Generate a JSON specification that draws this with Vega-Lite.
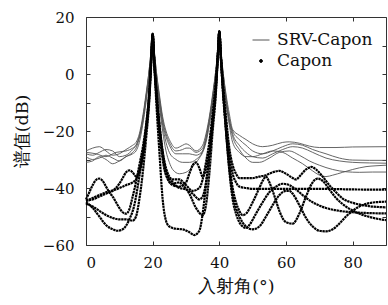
{
"$schema": "https://vega.github.io/schema/vega-lite/v6.json",
"width": 300, "height": 228,
"autosize": "none",
"padding": {"left": 86, "top": 17, "right": 2, "bottom": 60},
"background": "white",
"config": {"view": {"stroke": null}, "font": "DejaVu Serif",
  "axis": {"domainColor": "#333", "tickColor": "#333", "labelColor": "#111", "titleColor": "#111", "labelFont": "DejaVu Serif", "labelFontSize": 15, "titleFont": "DejaVu Serif", "titleFontSize": 17.5, "titleFontWeight": "normal", "grid": false, "tickSize": -4}},
"datasets": {
"srv": [
{"s":"S1","x":0,"y":-27},{"s":"S1","x":2,"y":-26},{"s":"S1","x":4,"y":-25.5},{"s":"S1","x":6,"y":-27},{"s":"S1","x":8,"y":-28.5},{"s":"S1","x":10,"y":-28},{"s":"S1","x":12,"y":-26.5},{"s":"S1","x":14,"y":-25},{"s":"S1","x":15,"y":-24},{"s":"S1","x":16,"y":-21},{"s":"S1","x":17,"y":-15},{"s":"S1","x":18,"y":-7},{"s":"S1","x":19,"y":2},{"s":"S1","x":19.5,"y":8},{"s":"S1","x":20,"y":14},{"s":"S1","x":20.5,"y":8},{"s":"S1","x":21,"y":2},{"s":"S1","x":22,"y":-7},{"s":"S1","x":23,"y":-15},{"s":"S1","x":24,"y":-20},{"s":"S1","x":25,"y":-23},{"s":"S1","x":27,"y":-26},{"s":"S1","x":29,"y":-25},{"s":"S1","x":30,"y":-24.5},{"s":"S1","x":31,"y":-25},{"s":"S1","x":33,"y":-27},{"s":"S1","x":35,"y":-25},{"s":"S1","x":36,"y":-21},{"s":"S1","x":37,"y":-15},{"s":"S1","x":38,"y":-7},{"s":"S1","x":39,"y":2},{"s":"S1","x":39.5,"y":8},{"s":"S1","x":40,"y":15},{"s":"S1","x":40.5,"y":8},{"s":"S1","x":41,"y":2},{"s":"S1","x":42,"y":-7},{"s":"S1","x":43,"y":-14},{"s":"S1","x":44,"y":-19.5},{"s":"S1","x":46,"y":-21.5},{"s":"S1","x":48,"y":-23},{"s":"S1","x":50,"y":-24.5},{"s":"S1","x":53,"y":-25.5},{"s":"S1","x":56,"y":-25},{"s":"S1","x":59,"y":-24},{"s":"S1","x":61,"y":-23.8},{"s":"S1","x":64,"y":-24.3},{"s":"S1","x":67,"y":-25.3},{"s":"S1","x":70,"y":-25.8},{"s":"S1","x":75,"y":-25.8},{"s":"S1","x":80,"y":-25.6},{"s":"S1","x":90,"y":-25.5},
{"s":"S2","x":0,"y":-28},{"s":"S2","x":2,"y":-28.5},{"s":"S2","x":4,"y":-27.5},{"s":"S2","x":6,"y":-26.5},{"s":"S2","x":8,"y":-27},{"s":"S2","x":10,"y":-29},{"s":"S2","x":12,"y":-28.5},{"s":"S2","x":14,"y":-26.5},{"s":"S2","x":15,"y":-25},{"s":"S2","x":16,"y":-22},{"s":"S2","x":17,"y":-16},{"s":"S2","x":18,"y":-8},{"s":"S2","x":19,"y":2},{"s":"S2","x":19.5,"y":8},{"s":"S2","x":20,"y":14},{"s":"S2","x":20.5,"y":8},{"s":"S2","x":21,"y":2},{"s":"S2","x":22,"y":-8},{"s":"S2","x":23,"y":-16},{"s":"S2","x":24,"y":-21},{"s":"S2","x":25,"y":-24},{"s":"S2","x":27,"y":-27},{"s":"S2","x":29,"y":-26.5},{"s":"S2","x":30,"y":-26},{"s":"S2","x":31,"y":-26},{"s":"S2","x":33,"y":-27.5},{"s":"S2","x":35,"y":-26},{"s":"S2","x":36,"y":-22},{"s":"S2","x":37,"y":-16},{"s":"S2","x":38,"y":-8},{"s":"S2","x":39,"y":2},{"s":"S2","x":39.5,"y":8},{"s":"S2","x":40,"y":15},{"s":"S2","x":40.5,"y":8},{"s":"S2","x":41,"y":2},{"s":"S2","x":42,"y":-8},{"s":"S2","x":43,"y":-16},{"s":"S2","x":44,"y":-21},{"s":"S2","x":46,"y":-25},{"s":"S2","x":48,"y":-27.5},{"s":"S2","x":50,"y":-29},{"s":"S2","x":53,"y":-29.5},{"s":"S2","x":56,"y":-28},{"s":"S2","x":59,"y":-26.5},{"s":"S2","x":62,"y":-25.5},{"s":"S2","x":65,"y":-26},{"s":"S2","x":68,"y":-27.5},{"s":"S2","x":72,"y":-29.5},{"s":"S2","x":76,"y":-30.5},{"s":"S2","x":80,"y":-31},{"s":"S2","x":85,"y":-31.2},{"s":"S2","x":90,"y":-31.3},
{"s":"S3","x":0,"y":-29},{"s":"S3","x":2,"y":-30},{"s":"S3","x":4,"y":-29.5},{"s":"S3","x":6,"y":-28.5},{"s":"S3","x":8,"y":-29.5},{"s":"S3","x":10,"y":-30.5},{"s":"S3","x":12,"y":-29},{"s":"S3","x":14,"y":-27.5},{"s":"S3","x":15,"y":-26},{"s":"S3","x":16,"y":-22.5},{"s":"S3","x":17,"y":-17},{"s":"S3","x":18,"y":-9},{"s":"S3","x":19,"y":1},{"s":"S3","x":19.5,"y":7},{"s":"S3","x":20,"y":14},{"s":"S3","x":20.5,"y":7},{"s":"S3","x":21,"y":1},{"s":"S3","x":22,"y":-9},{"s":"S3","x":23,"y":-17},{"s":"S3","x":24,"y":-22},{"s":"S3","x":25,"y":-25},{"s":"S3","x":27,"y":-28},{"s":"S3","x":29,"y":-28},{"s":"S3","x":31,"y":-28},{"s":"S3","x":33,"y":-28.5},{"s":"S3","x":35,"y":-27},{"s":"S3","x":36,"y":-23},{"s":"S3","x":37,"y":-17},{"s":"S3","x":38,"y":-9},{"s":"S3","x":39,"y":1},{"s":"S3","x":39.5,"y":7},{"s":"S3","x":40,"y":15},{"s":"S3","x":40.5,"y":7},{"s":"S3","x":41,"y":1},{"s":"S3","x":42,"y":-9},{"s":"S3","x":43,"y":-17},{"s":"S3","x":44,"y":-22},{"s":"S3","x":46,"y":-26.5},{"s":"S3","x":48,"y":-29.5},{"s":"S3","x":50,"y":-31},{"s":"S3","x":52,"y":-31},{"s":"S3","x":55,"y":-29.5},{"s":"S3","x":58,"y":-27.5},{"s":"S3","x":61,"y":-27},{"s":"S3","x":64,"y":-28.5},{"s":"S3","x":67,"y":-30.5},{"s":"S3","x":70,"y":-32},{"s":"S3","x":74,"y":-33.5},{"s":"S3","x":78,"y":-34.3},{"s":"S3","x":82,"y":-34.5},{"s":"S3","x":86,"y":-34.4},{"s":"S3","x":90,"y":-34.4},
{"s":"S4","x":0,"y":-31},{"s":"S4","x":2,"y":-30.5},{"s":"S4","x":4,"y":-29},{"s":"S4","x":6,"y":-30},{"s":"S4","x":8,"y":-31.5},{"s":"S4","x":10,"y":-30.5},{"s":"S4","x":12,"y":-29},{"s":"S4","x":14,"y":-28},{"s":"S4","x":15,"y":-27},{"s":"S4","x":16,"y":-24},{"s":"S4","x":17,"y":-18},{"s":"S4","x":18,"y":-10},{"s":"S4","x":19,"y":0},{"s":"S4","x":19.5,"y":6},{"s":"S4","x":20,"y":14},{"s":"S4","x":20.5,"y":6},{"s":"S4","x":21,"y":0},{"s":"S4","x":22,"y":-11},{"s":"S4","x":23,"y":-20},{"s":"S4","x":24,"y":-27},{"s":"S4","x":25,"y":-31},{"s":"S4","x":26,"y":-33.5},{"s":"S4","x":28,"y":-35},{"s":"S4","x":30,"y":-34.5},{"s":"S4","x":32,"y":-32.5},{"s":"S4","x":34,"y":-29.5},{"s":"S4","x":35,"y":-27.5},{"s":"S4","x":36,"y":-24},{"s":"S4","x":37,"y":-18},{"s":"S4","x":38,"y":-10},{"s":"S4","x":39,"y":0},{"s":"S4","x":39.5,"y":6},{"s":"S4","x":40,"y":15},{"s":"S4","x":40.5,"y":6},{"s":"S4","x":41,"y":0},{"s":"S4","x":42,"y":-10},{"s":"S4","x":43,"y":-18},{"s":"S4","x":44,"y":-24},{"s":"S4","x":46,"y":-27.5},{"s":"S4","x":48,"y":-29},{"s":"S4","x":50,"y":-29},{"s":"S4","x":53,"y":-28},{"s":"S4","x":56,"y":-27},{"s":"S4","x":59,"y":-27.5},{"s":"S4","x":62,"y":-29.5},{"s":"S4","x":65,"y":-31.5},{"s":"S4","x":68,"y":-34},{"s":"S4","x":70,"y":-35.5},{"s":"S4","x":72,"y":-36},{"s":"S4","x":74,"y":-35.5},{"s":"S4","x":77,"y":-34.5},{"s":"S4","x":80,"y":-33.5},{"s":"S4","x":84,"y":-32.5},{"s":"S4","x":87,"y":-32.2},{"s":"S4","x":90,"y":-32},
{"s":"S5","x":0,"y":-27.5},{"s":"S5","x":3,"y":-28},{"s":"S5","x":6,"y":-29},{"s":"S5","x":9,"y":-27.5},{"s":"S5","x":12,"y":-27},{"s":"S5","x":14,"y":-26},{"s":"S5","x":15,"y":-25},{"s":"S5","x":16,"y":-22},{"s":"S5","x":17,"y":-16},{"s":"S5","x":18,"y":-8},{"s":"S5","x":19,"y":1},{"s":"S5","x":19.5,"y":7},{"s":"S5","x":20,"y":14},{"s":"S5","x":20.5,"y":7},{"s":"S5","x":21,"y":0},{"s":"S5","x":22,"y":-10},{"s":"S5","x":23,"y":-18},{"s":"S5","x":24,"y":-24},{"s":"S5","x":25,"y":-27.5},{"s":"S5","x":27,"y":-30},{"s":"S5","x":29,"y":-31},{"s":"S5","x":31,"y":-31},{"s":"S5","x":33,"y":-30},{"s":"S5","x":35,"y":-27},{"s":"S5","x":36,"y":-23},{"s":"S5","x":37,"y":-16},{"s":"S5","x":38,"y":-8},{"s":"S5","x":39,"y":1},{"s":"S5","x":39.5,"y":7},{"s":"S5","x":40,"y":15},{"s":"S5","x":40.5,"y":7},{"s":"S5","x":41,"y":1},{"s":"S5","x":42,"y":-9},{"s":"S5","x":43,"y":-16},{"s":"S5","x":44,"y":-20},{"s":"S5","x":46,"y":-23},{"s":"S5","x":48,"y":-25},{"s":"S5","x":50,"y":-27},{"s":"S5","x":53,"y":-28},{"s":"S5","x":56,"y":-27},{"s":"S5","x":59,"y":-25.5},{"s":"S5","x":62,"y":-24.5},{"s":"S5","x":65,"y":-25},{"s":"S5","x":68,"y":-26.5},{"s":"S5","x":72,"y":-28},{"s":"S5","x":76,"y":-29.5},{"s":"S5","x":80,"y":-30.2},{"s":"S5","x":85,"y":-30.3},{"s":"S5","x":90,"y":-30.3}
],
"capon": [
{"s":"C1","x":0,"y":-45},{"s":"C1","x":2,"y":-47},{"s":"C1","x":4,"y":-50},{"s":"C1","x":6,"y":-53},{"s":"C1","x":8,"y":-54.5},{"s":"C1","x":9.5,"y":-55},{"s":"C1","x":11,"y":-54.5},{"s":"C1","x":13,"y":-51},{"s":"C1","x":14.5,"y":-46},{"s":"C1","x":16,"y":-36},{"s":"C1","x":17,"y":-29},{"s":"C1","x":18,"y":-20},{"s":"C1","x":19,"y":-8},{"s":"C1","x":19.5,"y":3},{"s":"C1","x":20,"y":14},{"s":"C1","x":20.5,"y":3},{"s":"C1","x":21,"y":-8},{"s":"C1","x":22,"y":-27},{"s":"C1","x":23,"y":-44},{"s":"C1","x":24,"y":-51.5},{"s":"C1","x":25,"y":-53.5},{"s":"C1","x":27,"y":-54.3},{"s":"C1","x":29,"y":-54.5},{"s":"C1","x":31,"y":-55.5},{"s":"C1","x":32.5,"y":-56.5},{"s":"C1","x":34,"y":-55},{"s":"C1","x":35,"y":-49},{"s":"C1","x":36,"y":-39},{"s":"C1","x":37,"y":-29},{"s":"C1","x":38,"y":-18},{"s":"C1","x":39,"y":-5},{"s":"C1","x":39.5,"y":5},{"s":"C1","x":40,"y":15},{"s":"C1","x":40.5,"y":5},{"s":"C1","x":41,"y":-5},{"s":"C1","x":42,"y":-20},{"s":"C1","x":43,"y":-33},{"s":"C1","x":44,"y":-42},{"s":"C1","x":45,"y":-47},{"s":"C1","x":46,"y":-50},{"s":"C1","x":48,"y":-53.5},{"s":"C1","x":50,"y":-54.5},{"s":"C1","x":52,"y":-53.5},{"s":"C1","x":54,"y":-50},{"s":"C1","x":56,"y":-46},{"s":"C1","x":58,"y":-42.5},{"s":"C1","x":60,"y":-41},{"s":"C1","x":61,"y":-41},{"s":"C1","x":62,"y":-42},{"s":"C1","x":64,"y":-46},{"s":"C1","x":66,"y":-50.5},{"s":"C1","x":68,"y":-53.5},{"s":"C1","x":70,"y":-55},{"s":"C1","x":72,"y":-55.2},{"s":"C1","x":74,"y":-54.5},{"s":"C1","x":76,"y":-52.5},{"s":"C1","x":78,"y":-50},{"s":"C1","x":80,"y":-48},{"s":"C1","x":82,"y":-46.5},{"s":"C1","x":85,"y":-45.3},{"s":"C1","x":88,"y":-44.9},{"s":"C1","x":90,"y":-44.8},
{"s":"C2","x":0,"y":-45.5},{"s":"C2","x":2,"y":-46.5},{"s":"C2","x":4,"y":-48},{"s":"C2","x":6,"y":-49.5},{"s":"C2","x":8,"y":-50.5},{"s":"C2","x":10,"y":-51},{"s":"C2","x":12,"y":-51},{"s":"C2","x":14,"y":-51.5},{"s":"C2","x":15,"y":-50},{"s":"C2","x":16,"y":-44},{"s":"C2","x":17,"y":-35},{"s":"C2","x":18,"y":-23},{"s":"C2","x":19,"y":-9},{"s":"C2","x":19.5,"y":2},{"s":"C2","x":20,"y":13.8},{"s":"C2","x":20.5,"y":3},{"s":"C2","x":21,"y":-6},{"s":"C2","x":22,"y":-20},{"s":"C2","x":23,"y":-30},{"s":"C2","x":24,"y":-35.5},{"s":"C2","x":26,"y":-38.5},{"s":"C2","x":28,"y":-38},{"s":"C2","x":29,"y":-39},{"s":"C2","x":31,"y":-42},{"s":"C2","x":33,"y":-47},{"s":"C2","x":35,"y":-49.5},{"s":"C2","x":36,"y":-46},{"s":"C2","x":37,"y":-35},{"s":"C2","x":38,"y":-20},{"s":"C2","x":39,"y":-6},{"s":"C2","x":39.5,"y":5},{"s":"C2","x":40,"y":14.8},{"s":"C2","x":40.5,"y":5},{"s":"C2","x":41,"y":-4},{"s":"C2","x":42,"y":-17},{"s":"C2","x":43,"y":-28},{"s":"C2","x":44,"y":-35},{"s":"C2","x":45,"y":-38},{"s":"C2","x":46,"y":-39.5},{"s":"C2","x":48,"y":-40},{"s":"C2","x":50,"y":-40.3},{"s":"C2","x":60,"y":-40.3},{"s":"C2","x":70,"y":-40.3},{"s":"C2","x":80,"y":-40.5},{"s":"C2","x":90,"y":-40.6},
{"s":"C3","x":0,"y":-44},{"s":"C3","x":1,"y":-41.5},{"s":"C3","x":2,"y":-39},{"s":"C3","x":3,"y":-37.2},{"s":"C3","x":4,"y":-36.7},{"s":"C3","x":5,"y":-37.5},{"s":"C3","x":6,"y":-39.5},{"s":"C3","x":7,"y":-41.5},{"s":"C3","x":8,"y":-43},{"s":"C3","x":9,"y":-45},{"s":"C3","x":10,"y":-47},{"s":"C3","x":11,"y":-48.5},{"s":"C3","x":12,"y":-49},{"s":"C3","x":13,"y":-47.5},{"s":"C3","x":14,"y":-43},{"s":"C3","x":15,"y":-38},{"s":"C3","x":16,"y":-32},{"s":"C3","x":17,"y":-26},{"s":"C3","x":18,"y":-18},{"s":"C3","x":19,"y":-6},{"s":"C3","x":19.5,"y":4},{"s":"C3","x":20,"y":14},{"s":"C3","x":20.5,"y":4},{"s":"C3","x":21,"y":-5},{"s":"C3","x":22,"y":-18},{"s":"C3","x":23,"y":-28},{"s":"C3","x":24,"y":-34},{"s":"C3","x":26,"y":-38},{"s":"C3","x":28,"y":-40},{"s":"C3","x":30,"y":-40.5},{"s":"C3","x":32,"y":-42},{"s":"C3","x":34,"y":-44},{"s":"C3","x":35,"y":-43},{"s":"C3","x":36,"y":-38},{"s":"C3","x":37,"y":-28},{"s":"C3","x":38,"y":-16},{"s":"C3","x":39,"y":-4},{"s":"C3","x":39.5,"y":5},{"s":"C3","x":40,"y":15},{"s":"C3","x":40.5,"y":5},{"s":"C3","x":41,"y":-4},{"s":"C3","x":42,"y":-19},{"s":"C3","x":43,"y":-31},{"s":"C3","x":44,"y":-40},{"s":"C3","x":45,"y":-45},{"s":"C3","x":46,"y":-48},{"s":"C3","x":47,"y":-49.5},{"s":"C3","x":48,"y":-49},{"s":"C3","x":50,"y":-45},{"s":"C3","x":52,"y":-40},{"s":"C3","x":53,"y":-37.5},{"s":"C3","x":54,"y":-36},{"s":"C3","x":55,"y":-38},{"s":"C3","x":56,"y":-41},{"s":"C3","x":57,"y":-44.5},{"s":"C3","x":58,"y":-48},{"s":"C3","x":60,"y":-52},{"s":"C3","x":62,"y":-52.5},{"s":"C3","x":64,"y":-49},{"s":"C3","x":66,"y":-43},{"s":"C3","x":68,"y":-38},{"s":"C3","x":69.5,"y":-36.7},{"s":"C3","x":71,"y":-37.5},{"s":"C3","x":73,"y":-40.5},{"s":"C3","x":75,"y":-43.5},{"s":"C3","x":78,"y":-46.5},{"s":"C3","x":81,"y":-48.5},{"s":"C3","x":84,"y":-49.8},{"s":"C3","x":87,"y":-50.7},{"s":"C3","x":90,"y":-51.3},
{"s":"C4","x":0,"y":-44.5},{"s":"C4","x":3,"y":-43},{"s":"C4","x":6,"y":-41.5},{"s":"C4","x":9,"y":-40.5},{"s":"C4","x":12,"y":-39},{"s":"C4","x":14,"y":-38},{"s":"C4","x":15,"y":-37},{"s":"C4","x":16,"y":-34},{"s":"C4","x":17,"y":-29},{"s":"C4","x":18,"y":-20},{"s":"C4","x":19,"y":-7},{"s":"C4","x":19.5,"y":4},{"s":"C4","x":20,"y":14.2},{"s":"C4","x":20.5,"y":4},{"s":"C4","x":21,"y":-4},{"s":"C4","x":22,"y":-18},{"s":"C4","x":23,"y":-28},{"s":"C4","x":24,"y":-35},{"s":"C4","x":26,"y":-39},{"s":"C4","x":28,"y":-39.5},{"s":"C4","x":30,"y":-38},{"s":"C4","x":31,"y":-35},{"s":"C4","x":32,"y":-32},{"s":"C4","x":33,"y":-31},{"s":"C4","x":34,"y":-33},{"s":"C4","x":35,"y":-36},{"s":"C4","x":36,"y":-33},{"s":"C4","x":37,"y":-25},{"s":"C4","x":38,"y":-15},{"s":"C4","x":39,"y":-3},{"s":"C4","x":39.5,"y":6},{"s":"C4","x":40,"y":15},{"s":"C4","x":40.5,"y":6},{"s":"C4","x":41,"y":-2},{"s":"C4","x":42,"y":-15},{"s":"C4","x":43,"y":-26},{"s":"C4","x":44,"y":-32},{"s":"C4","x":45,"y":-35},{"s":"C4","x":46,"y":-36.5},{"s":"C4","x":48,"y":-36.5},{"s":"C4","x":50,"y":-36.5},{"s":"C4","x":52,"y":-36},{"s":"C4","x":54,"y":-35.5},{"s":"C4","x":56,"y":-34.5},{"s":"C4","x":58,"y":-34},{"s":"C4","x":60,"y":-35},{"s":"C4","x":62,"y":-36.5},{"s":"C4","x":63,"y":-37},{"s":"C4","x":64,"y":-36},{"s":"C4","x":66,"y":-33.5},{"s":"C4","x":67.7,"y":-32.6},{"s":"C4","x":69,"y":-33.5},{"s":"C4","x":71,"y":-36},{"s":"C4","x":73,"y":-39},{"s":"C4","x":75,"y":-41.5},{"s":"C4","x":77,"y":-43.7},{"s":"C4","x":80,"y":-45.2},{"s":"C4","x":84,"y":-46.2},{"s":"C4","x":90,"y":-46.8},
{"s":"C5","x":0,"y":-44.5},{"s":"C5","x":2,"y":-44},{"s":"C5","x":4,"y":-43},{"s":"C5","x":6,"y":-42},{"s":"C5","x":8,"y":-41},{"s":"C5","x":10,"y":-38.5},{"s":"C5","x":11,"y":-36.5},{"s":"C5","x":12,"y":-34.5},{"s":"C5","x":13,"y":-33.8},{"s":"C5","x":14,"y":-34.5},{"s":"C5","x":15,"y":-36},{"s":"C5","x":16,"y":-34},{"s":"C5","x":17,"y":-28},{"s":"C5","x":18,"y":-19},{"s":"C5","x":19,"y":-6},{"s":"C5","x":19.5,"y":4},{"s":"C5","x":20,"y":14},{"s":"C5","x":20.5,"y":4},{"s":"C5","x":21,"y":-4},{"s":"C5","x":22,"y":-17},{"s":"C5","x":23,"y":-27},{"s":"C5","x":24,"y":-33},{"s":"C5","x":26,"y":-37},{"s":"C5","x":28,"y":-37},{"s":"C5","x":30,"y":-39},{"s":"C5","x":32,"y":-41},{"s":"C5","x":34,"y":-40},{"s":"C5","x":35,"y":-37},{"s":"C5","x":36,"y":-31},{"s":"C5","x":37,"y":-24},{"s":"C5","x":38,"y":-14},{"s":"C5","x":39,"y":-2},{"s":"C5","x":39.5,"y":6},{"s":"C5","x":40,"y":15},{"s":"C5","x":40.5,"y":5},{"s":"C5","x":41,"y":-3},{"s":"C5","x":42,"y":-20},{"s":"C5","x":43,"y":-34},{"s":"C5","x":44,"y":-44},{"s":"C5","x":45,"y":-49},{"s":"C5","x":46,"y":-52},{"s":"C5","x":47,"y":-53.5},{"s":"C5","x":48,"y":-54},{"s":"C5","x":49,"y":-53},{"s":"C5","x":51,"y":-49},{"s":"C5","x":53,"y":-45},{"s":"C5","x":55,"y":-41.5},{"s":"C5","x":57,"y":-39.5},{"s":"C5","x":59,"y":-38.5},{"s":"C5","x":61,"y":-39},{"s":"C5","x":63,"y":-40.5},{"s":"C5","x":65,"y":-42.5},{"s":"C5","x":68,"y":-45},{"s":"C5","x":72,"y":-47},{"s":"C5","x":76,"y":-48},{"s":"C5","x":80,"y":-48.5},{"s":"C5","x":85,"y":-48.8},{"s":"C5","x":90,"y":-48.9}
]
},
"layer": [
{"data": {"name": "srv"},
 "mark": {"type": "line", "strokeWidth": 0.9, "interpolate": "monotone"},
 "encoding": {
  "x": {"field": "x", "type": "quantitative", "scale": {"domain": [0, 90], "nice": false}, "axis": {"orient": "top", "values": [0, 20, 40, 60, 80], "labels": false, "title": null}},
  "y": {"field": "y", "type": "quantitative", "scale": {"domain": [-60, 20], "nice": false}, "axis": {"orient": "right", "values": [-60, -50, -40, -30, -20, -10, 0, 10, 20], "labels": false, "title": null}},
  "detail": {"field": "s"},
  "color": {"datum": "SRV-Capon", "type": "nominal", "scale": {"domain": ["SRV-Capon", "Capon"], "range": ["#555555", "#000000"]},
   "legend": {"orient": "none", "legendX": 166, "legendY": 14, "title": null, "labelFont": "DejaVu Serif", "labelFontSize": 17, "labelColor": "#111", "symbolSize": 289, "symbolType": "stroke", "labelOffset": 7, "rowPadding": 4,
     "encode": {"symbols": {"update": {
       "shape": {"signal": "datum.value === 'Capon' ? 'circle' : 'stroke'"},
       "size": {"signal": "datum.value === 'Capon' ? 8 : 289"},
       "fill": {"signal": "datum.value === 'Capon' ? '#000' : 'transparent'"},
       "stroke": {"signal": "datum.value === 'Capon' ? 'transparent' : '#444'"},
       "strokeWidth": {"value": 1},
       "strokeDash": {"value": []}}}}}}
 }},
{"data": {"name": "capon"},
 "mark": {"type": "line", "strokeWidth": 2.2, "strokeDash": [2.4, 0.6], "interpolate": "monotone"},
 "encoding": {
  "x": {"field": "x", "type": "quantitative", "axis": {"orient": "bottom", "values": [0, 20, 40, 60, 80], "labelPadding": 14, "title": "入射角(°)", "titlePadding": 7}},
  "y": {"field": "y", "type": "quantitative", "axis": {"orient": "left", "values": [-60, -50, -40, -30, -20, -10, 0, 10, 20], "labelExpr": "datum.value % 20 == 0 ? datum.label : ''", "labelPadding": 16, "title": "谱值(dB)", "titlePadding": 11}},
  "detail": {"field": "s"},
  "color": {"datum": "Capon", "type": "nominal"}
 }}
],
"resolve": {"axis": {"x": "independent", "y": "independent"}}
}
